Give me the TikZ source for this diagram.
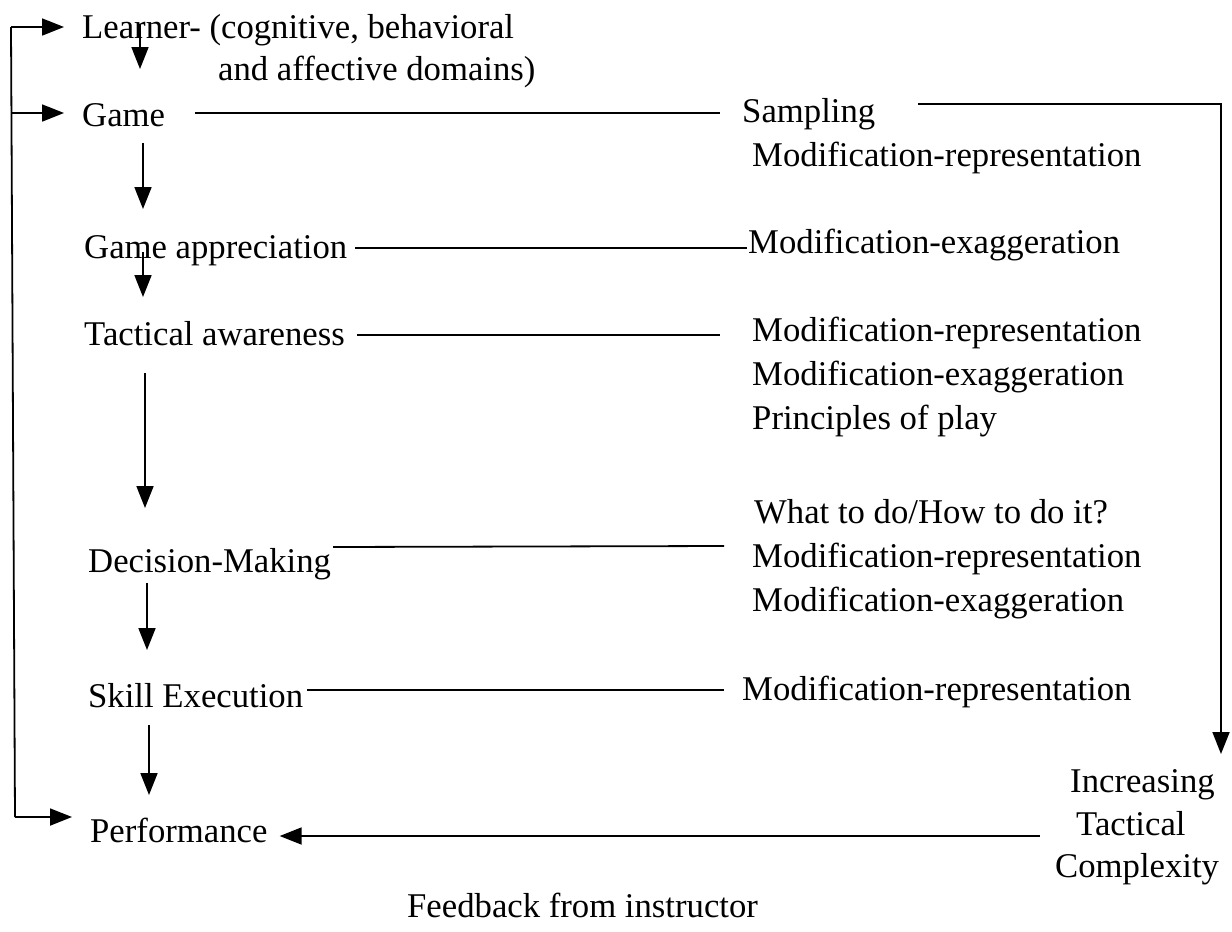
\documentclass[tikz,border=0pt]{standalone}
\usepackage{fontspec}
\setmainfont{Liberation Serif}
\usetikzlibrary{arrows.meta}
\newcommand{\labelsize}{\fontsize{34.7pt}{40pt}\selectfont}
\tikzset{
  lbl/.style={anchor=base west, inner sep=0pt, font=\labelsize},
  ln/.style={line width=1.8pt},
  arr/.style={ln, -{Triangle[length=22pt,width=17pt]}}
}
\begin{document}
\begin{tikzpicture}[x=1pt, y=-1pt]
  \useasboundingbox (0,0) rectangle (1232,932);

  % left column: the stages
  \node[lbl] (learner) at (82,38)  {Learner- (cognitive, behavioral};
  \node[lbl] (domains) at (218,80) {and affective domains)};
  \node[lbl] (game)    at (82,126) {Game};
  \node[lbl] (gapp)    at (84,258) {Game appreciation};
  \node[lbl] (tact)    at (84,345) {Tactical awareness};
  \node[lbl] (dec)     at (88,572) {Decision-Making};
  \node[lbl] (skill)   at (88,707) {Skill Execution};
  \node[lbl] (perf)    at (90,842) {Performance};

  % right column: teaching strategies
  \node[lbl] (samp)  at (742,122) {Sampling};
  \node[lbl] (mr1)   at (752,166) {Modification-representation};
  \node[lbl] (me1)   at (748,253) {Modification-exaggeration};
  \node[lbl] (mr2)   at (752,341) {Modification-representation};
  \node[lbl] (me2)   at (752,385) {Modification-exaggeration};
  \node[lbl] (pop)   at (752,429) {Principles of play};
  \node[lbl] (what)  at (754,523) {What to do/How to do it?};
  \node[lbl] (mr3)   at (752,567) {Modification-representation};
  \node[lbl] (me3)   at (752,611) {Modification-exaggeration};
  \node[lbl] (mr4)   at (742,700) {Modification-representation};

  \node[lbl] (incr)  at (1070,792) {Increasing};
  \node[lbl] (tcx)   at (1076,835) {Tactical};
  \node[lbl] (cplx)  at (1055,877) {Complexity};

  \node[lbl] (fb)    at (407,917) {Feedback from instructor};

  % line ends and bends
  \coordinate (fbTop)  at (11,27);
  \coordinate (fbGame) at (12,113);
  \coordinate (fbBot)  at (15,817);
  \coordinate (lA) at (140,24);   \coordinate (lB) at (140,69);
  \coordinate (gA) at (143,143);  \coordinate (gB) at (143,209);
  \coordinate (aA) at (143,252);  \coordinate (aB) at (143,297);
  \coordinate (tA) at (145,373);  \coordinate (tB) at (145,508);
  \coordinate (dA) at (147,583);  \coordinate (dB) at (147,650);
  \coordinate (sA) at (149,725);  \coordinate (sB) at (149,795);
  \coordinate (h1a) at (195,113); \coordinate (h1b) at (720,113);
  \coordinate (h2a) at (355,248); \coordinate (h2b) at (747,248);
  \coordinate (h3a) at (357,335); \coordinate (h3b) at (720,335);
  \coordinate (h4a) at (333,547); \coordinate (h4b) at (724,546);
  \coordinate (h5a) at (307,690); \coordinate (h5b) at (724,690);
  \coordinate (sampEnd) at (918,104);
  \coordinate (corner)  at (1221,104);
  \coordinate (downTip) at (1221,754);
  \coordinate (perfStart) at (1040,836);

  % feedback loop on the left
  \draw[ln] (fbTop) -- (fbBot);
  \draw[arr] (fbTop) -- ([xshift=-18pt]learner.west |- fbTop);
  \draw[arr] (fbGame) -- ([xshift=-18pt]game.west |- fbGame);
  \draw[arr] (fbBot) -- ([xshift=-18pt]perf.west |- fbBot);

  % downward flow
  \draw[arr] (lA) -- (lB);
  \draw[arr] (gA) -- (gB);
  \draw[arr] (aA) -- (aB);
  \draw[arr] (tA) -- (tB);
  \draw[arr] (dA) -- (dB);
  \draw[arr] (sA) -- (sB);

  % links to strategies
  \draw[ln] (h1a) -- (h1b);
  \draw[ln] (h2a) -- (h2b);
  \draw[ln] (h3a) -- (h3b);
  \draw[ln] (h4a) -- (h4b);
  \draw[ln] (h5a) -- (h5b);

  % increasing tactical complexity
  \draw[arr] (sampEnd) -- (corner) -- (downTip);
  \draw[arr] (perfStart) -- ([xshift=12pt]perf.east |- perfStart);
\end{tikzpicture}
\end{document}
